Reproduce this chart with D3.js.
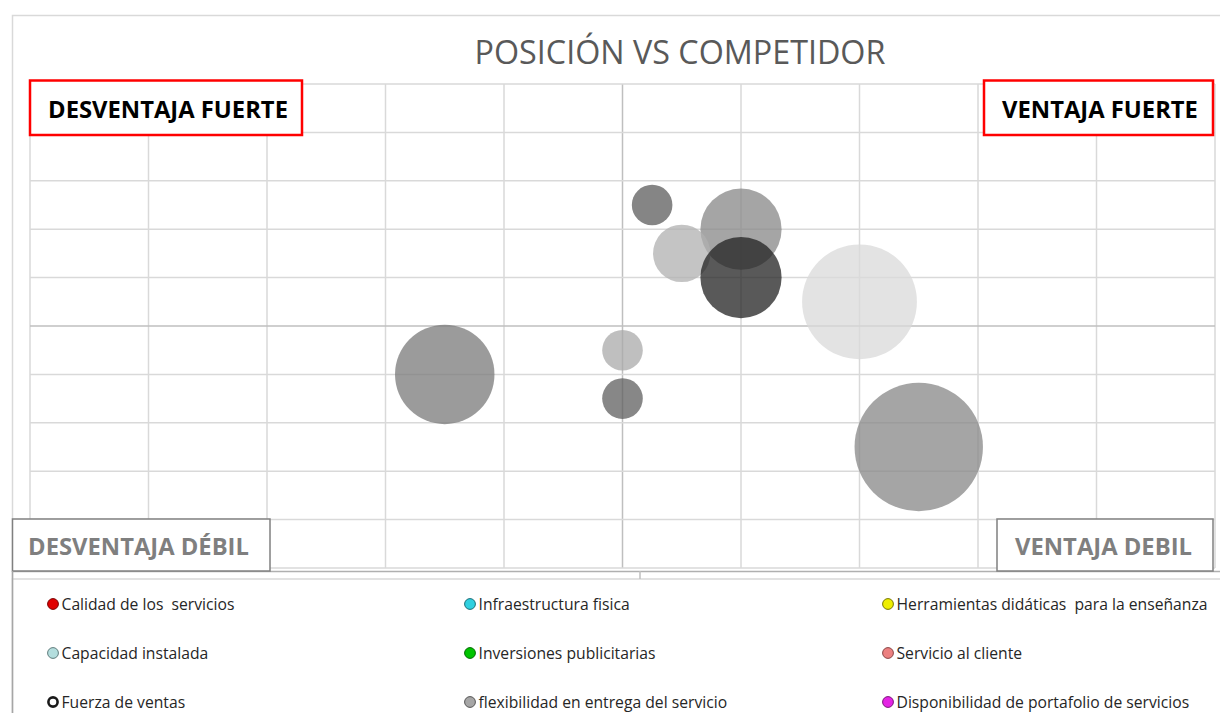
<!DOCTYPE html>
<html>
<head>
<meta charset="utf-8">
<script src="https://cdn.jsdelivr.net/npm/d3@7"></script>
<style>
  html, body { margin: 0; padding: 0; background: #fff; }
  svg { display: block; }
  text { white-space: pre; }
</style>
</head>
<body>
<svg id="chart" width="1220" height="713"></svg>
<script>
// ---------------- DATA ----------------
const title = "POSICIÓN VS COMPETIDOR";
const seriesNames = [
  "Calidad de los  servicios",
  "Infraestructura fisica",
  "Herramientas didáticas  para la enseñanza",
  "Capacidad instalada",
  "Inversiones publicitarias",
  "Servicio al cliente",
  "Fuerza de ventas",
  "flexibilidad en entrega del servicio",
  "Disponibilidad de portafolio de servicios"
];
const xValues = [1, 0, 2, 0.5, 0.25, 2.5, 1, -1.5, 0];
const yValues = [2, -0.5, 0.5, 1.5, 2.5, -2.5, 1, -1, -1.5];
const sizeValues = [4, 1, 8, 2, 1, 10, 4, 6, 1];
const xTicks = [-5, -4, -3, -2, -1, 0, 1, 2, 3, 4, 5];
const yTicks = [-5, -4, -3, -2, -1, 0, 1, 2, 3, 4, 5];
const quadrantLabels = ["DESVENTAJA FUERTE", "VENTAJA FUERTE", "DESVENTAJA DÉBIL", "VENTAJA DEBIL"];

// ---------------- STYLE ----------------
const bubbleGrey = [165, 191, 227, 196, 133, 165, 89, 155, 135]; // apparent grey over white
const legendFill = ["#e00000", "#2fd0e0", "#eeee00", "#b4dede", "#00c400", "#ec8080", "#ffffff", "#a6a6a6", "#e424e4"];
const legendStroke = ["#7a0000", "#1a6e78", "#777700", "#5f7c7c", "#006a00", "#8a4444", "#1a1a1a", "#555555", "#7a147a"];
const bubbleAlpha = 0.75;

const svg = d3.select("#chart");
const W = 1220, H = 713;
const plot = { left: 30, right: 1215, top: 84, bottom: 568 };

// outer chart frame
svg.append("rect").attr("x", 12.5).attr("y", 15.5).attr("width", 1220).attr("height", 800)
  .attr("fill", "#fff").attr("stroke", "#d9d9d9").attr("stroke-width", 1.5);

const x = d3.scaleLinear().domain([d3.min(xTicks), d3.max(xTicks)]).range([plot.left, plot.right]);
const y = d3.scaleLinear().domain([d3.min(yTicks), d3.max(yTicks)]).range([plot.bottom, plot.top]);
const r = d3.scaleSqrt().domain([0, d3.max(sizeValues)]).range([0, 64.2]);

// gridlines
const grid = svg.append("g");
grid.selectAll("line.v").data(xTicks).join("line")
  .attr("x1", d => x(d)).attr("x2", d => x(d))
  .attr("y1", plot.top).attr("y2", plot.bottom)
  .attr("stroke", d => d === 0 ? "#bfbfbf" : "#d9d9d9").attr("stroke-width", 1.5);
grid.selectAll("line.h").data(yTicks).join("line")
  .attr("y1", d => y(d)).attr("y2", d => y(d))
  .attr("x1", plot.left).attr("x2", plot.right)
  .attr("stroke", d => d === 0 ? "#bfbfbf" : "#d9d9d9").attr("stroke-width", 1.5);
// bottom axis-like line
svg.append("line").attr("x1", 12).attr("x2", W).attr("y1", 571.5).attr("y2", 571.5)
  .attr("stroke", "#b0b0b0").attr("stroke-width", 1.5);

// bubbles
const data = seriesNames.map((n, i) => ({ name: n, x: xValues[i], y: yValues[i], s: sizeValues[i], g: bubbleGrey[i] }));
svg.append("g").selectAll("circle").data(data).join("circle")
  .attr("cx", d => x(d.x)).attr("cy", d => y(d.y)).attr("r", d => r(d.s))
  .attr("fill", d => {
    const c = Math.round(Math.max(0, Math.min(255, (d.g - 255 * (1 - bubbleAlpha)) / bubbleAlpha)));
    return d3.rgb(c, c, c).toString();
  })
  .attr("fill-opacity", bubbleAlpha);

// title
const fontStack = "'Open Sans', 'Noto Sans', 'DejaVu Sans', sans-serif";
function fitText(sel, targetWidth) {
  const node = sel.node();
  let fs = parseFloat(sel.attr("font-size"));
  const w = node.getComputedTextLength();
  if (w > 0) sel.attr("font-size", (fs * targetWidth / w).toFixed(2));
  return sel;
}
const t = svg.append("text").attr("x", 680).attr("y", 64).attr("text-anchor", "middle")
  .attr("font-family", fontStack).attr("font-size", 30).attr("fill", "#595959").text(title);
fitText(t, 411);

// quadrant boxes
const boxes = [
  { label: quadrantLabels[0], x0: 30, x1: 302, y0: 80.5, y1: 135, tc: 168, stroke: "#ff0000", color: "#000000", tw: 240 },
  { label: quadrantLabels[1], x0: 984, x1: 1213, y0: 80.5, y1: 135, tc: 1100, stroke: "#ff0000", color: "#000000", tw: 196 },
  { label: quadrantLabels[2], x0: 12.5, x1: 270, y0: 519, y1: 571, tc: 138.5, stroke: "#808080", color: "#7f7f7f", tw: 221 },
  { label: quadrantLabels[3], x0: 997, x1: 1213, y0: 519, y1: 571, tc: 1103.5, stroke: "#808080", color: "#7f7f7f", tw: 177 }
];
boxes.forEach(b => {
  svg.append("rect").attr("x", b.x0).attr("y", b.y0).attr("width", b.x1 - b.x0).attr("height", b.y1 - b.y0)
    .attr("fill", "#fff").attr("stroke", b.stroke).attr("stroke-width", b.stroke === "#ff0000" ? 2.5 : 1.5);
  const tx = svg.append("text").attr("x", b.tc).attr("y", (b.y0 + b.y1) / 2 + 10)
    .attr("text-anchor", "middle").attr("font-family", fontStack).attr("font-weight", "bold")
    .attr("font-size", 20).attr("fill", b.color).text(b.label);
  fitText(tx, b.tw);
});

// legend frame
svg.append("rect").attr("x", 12.5).attr("y", 579).attr("width", 1220).attr("height", 200)
  .attr("fill", "#fff").attr("stroke", "#d9d9d9").attr("stroke-width", 1.5);
svg.append("line").attr("x1", 12.5).attr("x2", 12.5).attr("y1", 571).attr("y2", H)
  .attr("stroke", "#a6a6a6").attr("stroke-width", 1.5);
svg.append("line").attr("x1", 640).attr("x2", 640).attr("y1", 571).attr("y2", 579)
  .attr("stroke", "#bfbfbf").attr("stroke-width", 1.5);

// legend entries (Excel row-wise order, 3 columns)
const colX = [53, 470, 888];
const rowY = [604, 653, 702];
const leg = svg.append("g");
const items = leg.selectAll("g").data(seriesNames).join("g")
  .attr("transform", (d, i) => `translate(${colX[i % 3]},${rowY[Math.floor(i / 3)]})`);
items.append("circle").attr("r", (d, i) => i === 6 ? 4.6 : 5.4)
  .attr("fill", (d, i) => legendFill[i])
  .attr("stroke", (d, i) => legendStroke[i])
  .attr("stroke-width", (d, i) => i === 6 ? 2.6 : 1);
const legTexts = items.append("text").attr("x", 8.5).attr("y", 5.5)
  .attr("font-family", fontStack).attr("font-size", 15).attr("fill", "#262626").text(d => d);
// size legend text so the longest entry matches the reference width
const longest = legTexts.filter((d, i) => i === 2);
const w0 = longest.node().getComputedTextLength();
const fsLeg = 15 * 311 / w0;
legTexts.attr("font-size", fsLeg.toFixed(2));
</script>
</body>
</html>
